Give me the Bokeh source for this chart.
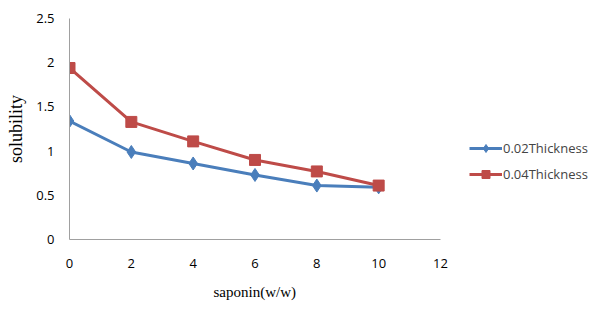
from bokeh.plotting import figure
from bokeh.models import Range1d, Legend, LegendItem, FixedTicker, Title
from bokeh.embed import file_html
from bokeh.resources import INLINE

saponin = [0, 2, 4, 6, 8, 10]
thick_002 = [1.34, 0.99, 0.86, 0.73, 0.61, 0.59]
thick_004 = [1.94, 1.33, 1.11, 0.90, 0.77, 0.61]
x_ticks = [0, 2, 4, 6, 8, 10, 12]
y_ticks = [0, 0.5, 1, 1.5, 2, 2.5]

blue = "#4a7ebb"
red = "#be4b48"

# layout: axis area 0..12 spans 371 px; frame extends to the right for the legend
W, H = 600, 311
LEFT, TOP, BOTTOM = 69, 18, 72
AXIS_PX = 371
frame_w = W - LEFT
x_end = x_ticks[-1] * frame_w / AXIS_PX

p = figure(width=W, height=H, output_backend="svg", toolbar_location=None,
           x_range=Range1d(0, x_end), y_range=Range1d(y_ticks[0], y_ticks[-1]),
           min_border_left=LEFT, min_border_right=0, min_border_top=TOP,
           min_border_bottom=BOTTOM)
p.outline_line_color = None
p.grid.visible = False

l1 = p.line(saponin, thick_002, line_color=blue, line_width=3)
s1 = p.scatter(saponin, thick_002, marker="diamond", size=13, fill_color=blue, line_color=blue)
l2 = p.line(saponin, thick_004, line_color=red, line_width=3)
s2 = p.scatter(saponin, thick_004, marker="square", size=11, fill_color=red, line_color=red)

for ax in (p.xaxis[0], p.yaxis[0]):
    ax.axis_line_color = "#a0a0a0"
    ax.axis_line_width = 1
    ax.major_tick_line_color = None
    ax.minor_tick_line_color = None
    ax.major_label_text_font = "Open Sans"
    ax.major_label_text_font_size = "13px"
    ax.major_label_text_color = "#000000"
    ax.axis_label_text_font = "Liberation Serif"
    ax.axis_label_text_font_style = "normal"
    ax.axis_label_text_color = "#000000"

p.xaxis[0].ticker = FixedTicker(ticks=x_ticks)
p.xaxis[0].bounds = (x_ticks[0], x_ticks[-1])
p.yaxis[0].ticker = FixedTicker(ticks=y_ticks)
p.yaxis[0].axis_label = "solubility"
p.yaxis[0].axis_label_text_font_size = "18px"
p.xaxis[0].major_label_standoff = 13
p.yaxis[0].major_label_standoff = 9
p.yaxis[0].axis_label_standoff = 7

xlabel = Title(text="saponin(w/w)", align="left", offset=144, standoff=23,
               text_font="Liberation Serif", text_font_style="normal",
               text_font_size="15px", text_color="#000000")
p.add_layout(xlabel, "below")

legend = Legend(items=[LegendItem(label="0.02Thickness", renderers=[l1, s1]),
                       LegendItem(label="0.04Thickness", renderers=[l2, s2])],
                location=(400, 55), orientation="vertical",
                border_line_color=None, background_fill_alpha=0,
                label_text_font="Open Sans", label_text_font_size="13px",
                glyph_width=33, label_standoff=1, spacing=6, padding=0, margin=0)
p.add_layout(legend, "center")

open("out.html", "w").write(file_html(p, INLINE))
